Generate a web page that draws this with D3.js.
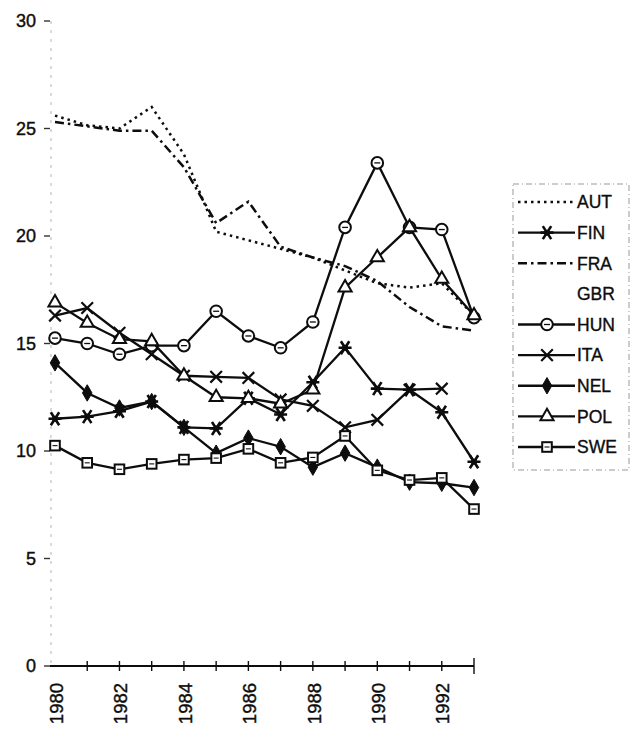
<!DOCTYPE html>
<html>
<head>
<meta charset="utf-8">
<script src="https://cdn.jsdelivr.net/npm/d3@7"></script>
<style>
  html, body { margin: 0; padding: 0; background: #fff; }
  svg { display: block; font-family: "Liberation Sans", Arial, sans-serif; }
</style>
</head>
<body>
<svg id="chart" width="632" height="730"></svg>
<script>
// years on the x axis
const years = [1980, 1981, 1982, 1983, 1984, 1985, 1986, 1987, 1988, 1989, 1990, 1991, 1992, 1993];
const yearLabels = [1980, 1982, 1984, 1986, 1988, 1990, 1992];
const yTicks = [0, 5, 10, 15, 20, 25, 30];

// series values (null = no point)
const AUT = [25.6, 25.15, 25.0, 26.0, 23.8, 20.2, 19.8, 19.4, 19.0, 18.4, 17.8, 17.6, 17.8, 16.3];
const FIN = [11.5, 11.6, 11.85, 12.3, 11.1, 11.05, 12.45, 11.7, 13.2, 14.8, 12.9, 12.85, 11.8, 9.5];
const FRA = [25.3, 25.1, 24.9, 24.9, 23.2, 20.6, 21.6, 19.5, 19.0, 18.6, 17.9, 16.7, 15.8, 15.6];
const GBR = [];
const HUN = [15.25, 15.0, 14.5, 14.9, 14.9, 16.5, 15.35, 14.8, 16.0, 20.4, 23.4, 20.4, 20.3, 16.2];
const ITA = [16.3, 16.65, 15.5, 14.5, 13.5, 13.45, 13.4, 12.4, 12.1, 11.1, 11.45, 12.85, 12.9, null];
const NEL = [14.1, 12.7, 12.0, 12.3, 11.1, 9.9, 10.6, 10.2, 9.25, 9.9, 9.25, 8.55, 8.5, 8.3];
const POL = [16.9, 15.95, 15.2, 15.1, 13.5, 12.5, 12.45, 12.2, 12.85, 17.6, 19.0, 20.4, 18.0, 16.3];
const SWE = [10.25, 9.45, 9.15, 9.4, 9.6, 9.67, 10.1, 9.45, 9.7, 10.7, 9.1, 8.65, 8.75, 7.3];

const seriesNames = ["AUT", "FIN", "FRA", "GBR", "HUN", "ITA", "NEL", "POL", "SWE"];
const seriesValues = [AUT, FIN, FRA, GBR, HUN, ITA, NEL, POL, SWE];

// line / marker style per series
const styles = {
    AUT: { dash: "2.5,4", marker: null },
    FIN: { dash: null, marker: "asterisk" },
    FRA: { dash: "9,4,2.5,4", marker: null },
    GBR: { dash: null, marker: null, hidden: true },
    HUN: { dash: null, marker: "circle" },
    ITA: { dash: null, marker: "x" },
    NEL: { dash: null, marker: "diamond" },
    POL: { dash: null, marker: "triangle" },
    SWE: { dash: null, marker: "square" }
};

const ink = "#0d0d0d";
const svg = d3.select("#chart");

const x = d3.scaleLinear().domain([1980, 1993]).range([55, 474]);
const y = d3.scaleLinear().domain([0, 30]).range([666, 21]);

// y axis: faint broken line, small ticks
const yAxis = svg.append("g");
yAxis.append("line")
    .attr("x1", 51).attr("x2", 51)
    .attr("y1", y(30)).attr("y2", y(0))
    .attr("stroke", "#b5b5b5")
    .attr("stroke-width", 1)
    .attr("stroke-dasharray", "3,6");

yAxis.selectAll("line.tick")
    .data(yTicks)
    .enter().append("line")
        .attr("class", "tick")
        .attr("x1", 44).attr("x2", 50)
        .attr("y1", d => y(d)).attr("y2", d => y(d))
        .attr("stroke", "#333")
        .attr("stroke-width", 1.4);

yAxis.selectAll("text")
    .data(yTicks)
    .enter().append("text")
        .attr("x", 36)
        .attr("y", d => y(d))
        .attr("dy", "0.36em")
        .attr("text-anchor", "end")
        .attr("font-size", 18)
        .attr("fill", ink)
        .attr("stroke", ink)
        .attr("stroke-width", 0.4)
        .text(d => d);

// x axis: solid line with a tick at every year
const xAxis = svg.append("g");
xAxis.append("line")
    .attr("x1", 50).attr("x2", x(1993))
    .attr("y1", y(0)).attr("y2", y(0))
    .attr("stroke", ink)
    .attr("stroke-width", 1.8);

xAxis.selectAll("line.tick")
    .data(years.slice(1))
    .enter().append("line")
        .attr("class", "tick")
        .attr("x1", d => x(d)).attr("x2", d => x(d))
        .attr("y1", d => y(0) - (d === 1993 ? 8 : 5))
        .attr("y2", d => y(0) + (d === 1993 ? 8 : 5))
        .attr("stroke", ink)
        .attr("stroke-width", 1.4);

xAxis.selectAll("text")
    .data(yearLabels)
    .enter().append("text")
        .attr("transform", d => "translate(" + (x(d) + 1) + "," + 683 + ") rotate(-90)")
        .attr("dy", "0.36em")
        .attr("text-anchor", "end")
        .attr("font-size", 18.5)
        .attr("fill", ink)
        .attr("stroke", ink)
        .attr("stroke-width", 0.4)
        .text(d => d);

// marker drawing
const drawMarker = function (g, type) {
    if (type === "circle") {
        g.append("circle").attr("r", 5.8)
            .attr("fill", "#fff").attr("stroke", ink).attr("stroke-width", 2);
        g.append("line").attr("x1", -3).attr("x2", 3).attr("y1", 0).attr("y2", 0)
            .attr("stroke", ink).attr("stroke-width", 1.3);
    } else if (type === "x") {
        g.append("path").attr("d", "M-5.8,-5.8L5.8,5.8M-5.8,5.8L5.8,-5.8")
            .attr("stroke", ink).attr("stroke-width", 2.2).attr("fill", "none");
    } else if (type === "asterisk") {
        g.append("path").attr("d", "M-6.5,0L6.5,0M-4.2,-6.5L4.2,6.5M-4.2,6.5L4.2,-6.5")
            .attr("stroke", ink).attr("stroke-width", 2.6).attr("fill", "none");
        g.append("circle").attr("r", 3).attr("fill", ink);
    } else if (type === "diamond") {
        g.append("path").attr("d", d3.symbol(d3.symbolDiamond, 78)())
            .attr("fill", ink).attr("stroke", ink).attr("stroke-width", 1);
    } else if (type === "triangle") {
        g.append("path").attr("d", d3.symbol(d3.symbolTriangle, 75)())
            .attr("fill", "#fff").attr("stroke", ink).attr("stroke-width", 2);
    } else if (type === "square") {
        g.append("rect").attr("x", -4.8).attr("y", -4.8).attr("width", 9.6).attr("height", 9.6)
            .attr("fill", "#fff").attr("stroke", ink).attr("stroke-width", 2);
        g.append("line").attr("x1", -2.5).attr("x2", 2.5).attr("y1", 0).attr("y2", 0)
            .attr("stroke", ink).attr("stroke-width", 1.1);
    }
};

const line = d3.line()
    .defined(d => d.v !== null)
    .x(d => x(d.year))
    .y(d => y(d.v));

const plot = svg.append("g");

seriesNames.forEach(function (name, i) {
    const st = styles[name];
    if (st.hidden) return;
    const pts = seriesValues[i].map((v, j) => ({ year: years[j], v: v }));

    plot.append("path")
        .datum(pts)
        .attr("d", line)
        .attr("fill", "none")
        .attr("stroke", ink)
        .attr("stroke-width", st.dash ? 2.5 : 2.3)
        .attr("stroke-dasharray", st.dash);

    if (st.marker) {
        plot.selectAll("g.m-" + name)
            .data(pts.filter(d => d.v !== null))
            .enter().append("g")
                .attr("class", "m-" + name)
                .attr("transform", d => "translate(" + x(d.year) + "," + y(d.v) + ")")
                .each(function () { drawMarker(d3.select(this), st.marker); });
    }
});

// legend
const legend = svg.append("g");
legend.append("rect")
    .attr("x", 513).attr("y", 184)
    .attr("width", 116).attr("height", 286)
    .attr("fill", "none")
    .attr("stroke", "#999")
    .attr("stroke-width", 1)
    .attr("stroke-dasharray", "6,3,1,3");

const legendY = d3.scalePoint().domain(seriesNames).range([202, 447]);

seriesNames.forEach(function (name) {
    const st = styles[name];
    const ly = legendY(name);
    const row = legend.append("g");
    if (!st.hidden) {
        row.append("line")
            .attr("x1", 518).attr("x2", 575)
            .attr("y1", ly).attr("y2", ly)
            .attr("stroke", ink)
            .attr("stroke-width", 2.3)
            .attr("stroke-dasharray", st.dash);
        if (st.marker) {
            const mg = row.append("g").attr("transform", "translate(547," + ly + ")");
            drawMarker(mg, st.marker);
        }
    }
    row.append("text")
        .attr("x", 577)
        .attr("y", ly)
        .attr("dy", "0.36em")
        .attr("font-size", 17.5)
        .attr("fill", ink)
        .attr("stroke", ink)
        .attr("stroke-width", 0.35)
        .text(name);
});
</script>
</body>
</html>
